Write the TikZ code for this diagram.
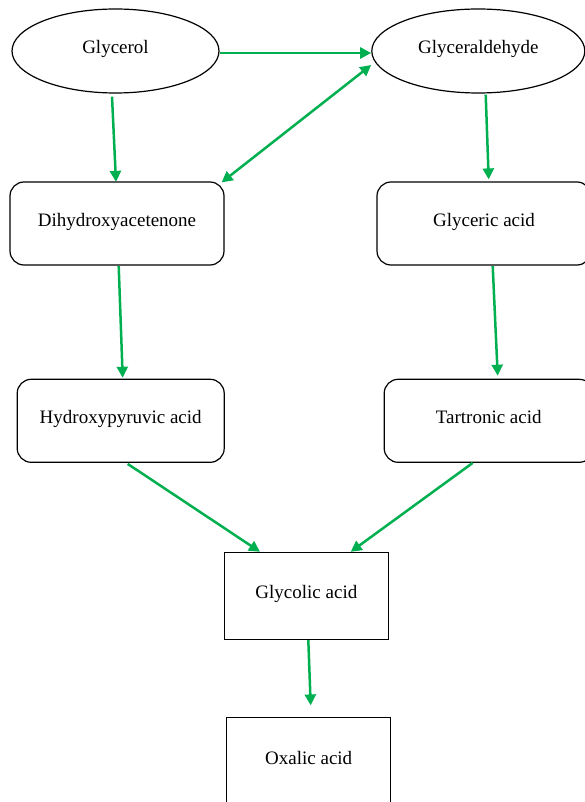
\documentclass[tikz,border=0pt]{standalone}
\usepackage{fontspec}
\setmainfont{Liberation Serif}
\usetikzlibrary{shapes.geometric,arrows.meta,calc}
\definecolor{flowgreen}{RGB}{0,176,80}
\tikzset{
  lbl/.style={font=\fontsize{19}{23}\selectfont, text height=12pt, text depth=6pt, inner sep=0pt, line width=1.2pt, draw=black},
  oval/.style={lbl, ellipse},
  rbox/.style={lbl, rectangle, rounded corners=14pt},
  sbox/.style={lbl, rectangle},
  flow/.style={-{Triangle[length=11pt,width=11pt]}, line width=2.5pt, draw=flowgreen},
  flowboth/.style={{Triangle[length=11pt,width=11pt]}-{Triangle[length=11pt,width=11pt]}, line width=2.5pt, draw=flowgreen}
}
\begin{document}
\begin{tikzpicture}[x=1pt,y=-1pt]
\useasboundingbox (0,0) rectangle (585,802);
\clip (0,0) rectangle (585,802);

% compounds
\node[oval, minimum width=207pt, minimum height=84pt] (gol) at (115.5,51) {Glycerol};
\node[oval, minimum width=213pt, minimum height=84pt] (gal) at (478.3,51) {Glyceraldehyde};
\node[rbox, minimum width=214pt, minimum height=83pt] (dha) at (117,223.5) {Dihydroxyacetenone};
\node[rbox, minimum width=214pt, minimum height=83pt] (gac) at (484,223.5) {Glyceric acid};
\node[rbox, minimum width=207pt, minimum height=83pt] (hpa) at (120.7,420.8) {Hydroxypyruvic acid};
\node[rbox, minimum width=209pt, minimum height=83pt] (tar) at (488.7,420.8) {Tartronic acid};
\node[sbox, minimum width=164pt, minimum height=87pt] (gca) at (306.4,595.9) {Glycolic acid};
\node[sbox, minimum width=164pt, minimum height=87pt] (oxa) at (308.7,761.2) {Oxalic acid};

% reaction steps
\draw[flow] ($(gol.east)+(0,2)$) -- ($(gal.west)+(0,2)$);
\draw[flow] ($(gol.south)+(-3.5,3)$) -- ($(dha.north)+(-1,0.5)$);
\draw[flowboth] ($(dha.north east)+(-3,1)$) -- ($(gal.west)+(0,14)$);
\draw[flow] ($(gal.south)+(7.4,1)$) -- ($(gac.north)+(4.7,-2)$);
\draw[flow] ($(dha.south)+(1.7,0.5)$) -- ($(hpa.north)+(2,-1)$);
\draw[flow] ($(gac.south)+(8.7,0.5)$) -- ($(tar.north)+(9,-3)$);
\draw[flow] ($(hpa.south)+(7,1)$) -- ($(gca.north)+(-46.4,0)$);
\draw[flow] ($(tar.south)+(-16,0)$) -- ($(gca.north)+(44.3,0)$);
\draw[flow] ($(gca.south)+(1.9,0)$) -- ($(oxa.north)+(2,-11.7)$);
\end{tikzpicture}
\end{document}
